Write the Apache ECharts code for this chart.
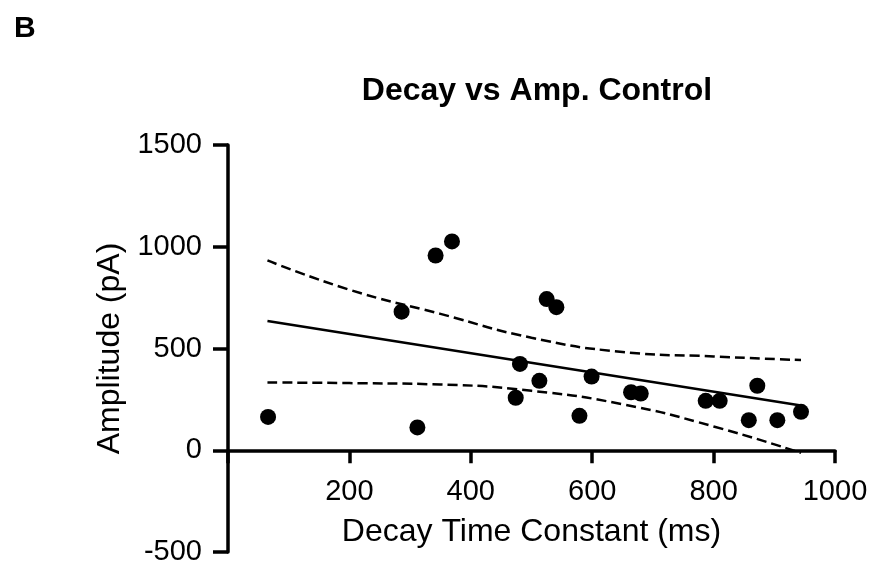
<!DOCTYPE html>
<html>
<head>
<meta charset="utf-8">
<script src="https://cdn.jsdelivr.net/npm/echarts@6/dist/echarts.min.js"></script>
<style>
  html, body { margin: 0; padding: 0; background: #fff; }
  #chart { width: 873px; height: 563px; }
</style>
</head>
<body>
<div id="chart"></div>
<script>
// scatter points
const decayMs = [66, 286, 312, 342, 369, 474, 481, 513, 525, 541, 579, 599, 664, 680, 787, 810, 858, 872, 905, 944];
const amplitudePa = [164, 681, 112, 957, 1026, 258, 424, 341, 743, 703, 169, 362, 285, 279, 243, 243, 148, 317, 148, 189];

// fitted line (endpoints) and 95% band
const fitX = [65, 944];
const fitY = [635, 220];
const bandX = [65, 200, 350, 500, 650, 800, 944];
const bandUpper = [933, 789, 670, 553, 483, 461, 443];
const bandLower = [333, 330, 323, 292, 226, 117, -13];

const xTicks = { min: 0, max: 1000, interval: 200 };
const yTicks = { min: -500, max: 1500, interval: 500 };

const pairs = (xs, ys) => xs.map((x, i) => [x, ys[i]]);

const chart = echarts.init(document.getElementById('chart'));
const font = 'Liberation Sans';

const gridTop = 145, gridBottom = 11;
const gridH = 563 - gridTop - gridBottom;
// x axis sits on y = 0: move it up from the grid bottom
const xOffset = -gridH * (0 - yTicks.min) / (yTicks.max - yTicks.min);

const option = {
  animation: false,
  backgroundColor: '#fff',
  title: {
    text: 'Decay vs Amp. Control',
    left: 532,
    top: 70,
    textAlign: 'center',
    textStyle: { fontFamily: font, fontWeight: 'bold', fontSize: 32, color: '#000' }
  },
  graphic: [{
    type: 'text',
    left: 14,
    top: 14,
    style: { text: 'B', font: 'bold 30px "Liberation Sans"', fill: '#000' }
  }],
  grid: { left: 228, right: 38, top: gridTop, bottom: gridBottom, containLabel: false, outerBoundsMode: 'none' },
  xAxis: {
    type: 'value',
    position: 'bottom',
    offset: xOffset,
    min: xTicks.min,
    max: xTicks.max,
    interval: xTicks.interval,
    name: 'Decay Time Constant (ms)',
    nameLocation: 'middle',
    nameGap: 66,
    nameTextStyle: { fontFamily: font, fontSize: 32, color: '#000' },
    axisLine: { onZero: false, lineStyle: { color: '#000', width: 3.5 } },
    axisTick: { length: 13, lineStyle: { color: '#000', width: 3.5 } },
    axisLabel: {
      margin: 27,
      fontFamily: font,
      fontSize: 29,
      color: '#000',
      formatter: v => (v === 0 ? '' : String(v))
    },
    splitLine: { show: false }
  },
  yAxis: {
    type: 'value',
    min: yTicks.min,
    max: yTicks.max,
    interval: yTicks.interval,
    name: 'Amplitude (pA)',
    nameLocation: 'middle',
    nameGap: 102,
    nameTextStyle: { fontFamily: font, fontSize: 32, color: '#000' },
    axisLine: { show: true, onZero: false, lineStyle: { color: '#000', width: 3.5 } },
    axisTick: { show: true, length: 15, lineStyle: { color: '#000', width: 3.5 } },
    axisLabel: { margin: 26, fontFamily: font, fontSize: 29, color: '#000', formatter: v => String(v) },
    splitLine: { show: false }
  },
  series: [
    {
      type: 'line',
      data: pairs(bandX, bandUpper),
      smooth: true,
      showSymbol: false,
      lineStyle: { color: '#000', width: 2.5, type: [10, 5] },
      silent: true
    },
    {
      type: 'line',
      data: pairs(bandX, bandLower),
      smooth: true,
      showSymbol: false,
      lineStyle: { color: '#000', width: 2.5, type: [10, 5] },
      silent: true
    },
    {
      type: 'line',
      data: pairs(fitX, fitY),
      showSymbol: false,
      lineStyle: { color: '#000', width: 2.5 },
      silent: true
    },
    {
      type: 'scatter',
      data: pairs(decayMs, amplitudePa),
      symbolSize: 16,
      itemStyle: { color: '#000', opacity: 1 },
      silent: true
    }
  ]
};

chart.setOption(option);
</script>
</body>
</html>
